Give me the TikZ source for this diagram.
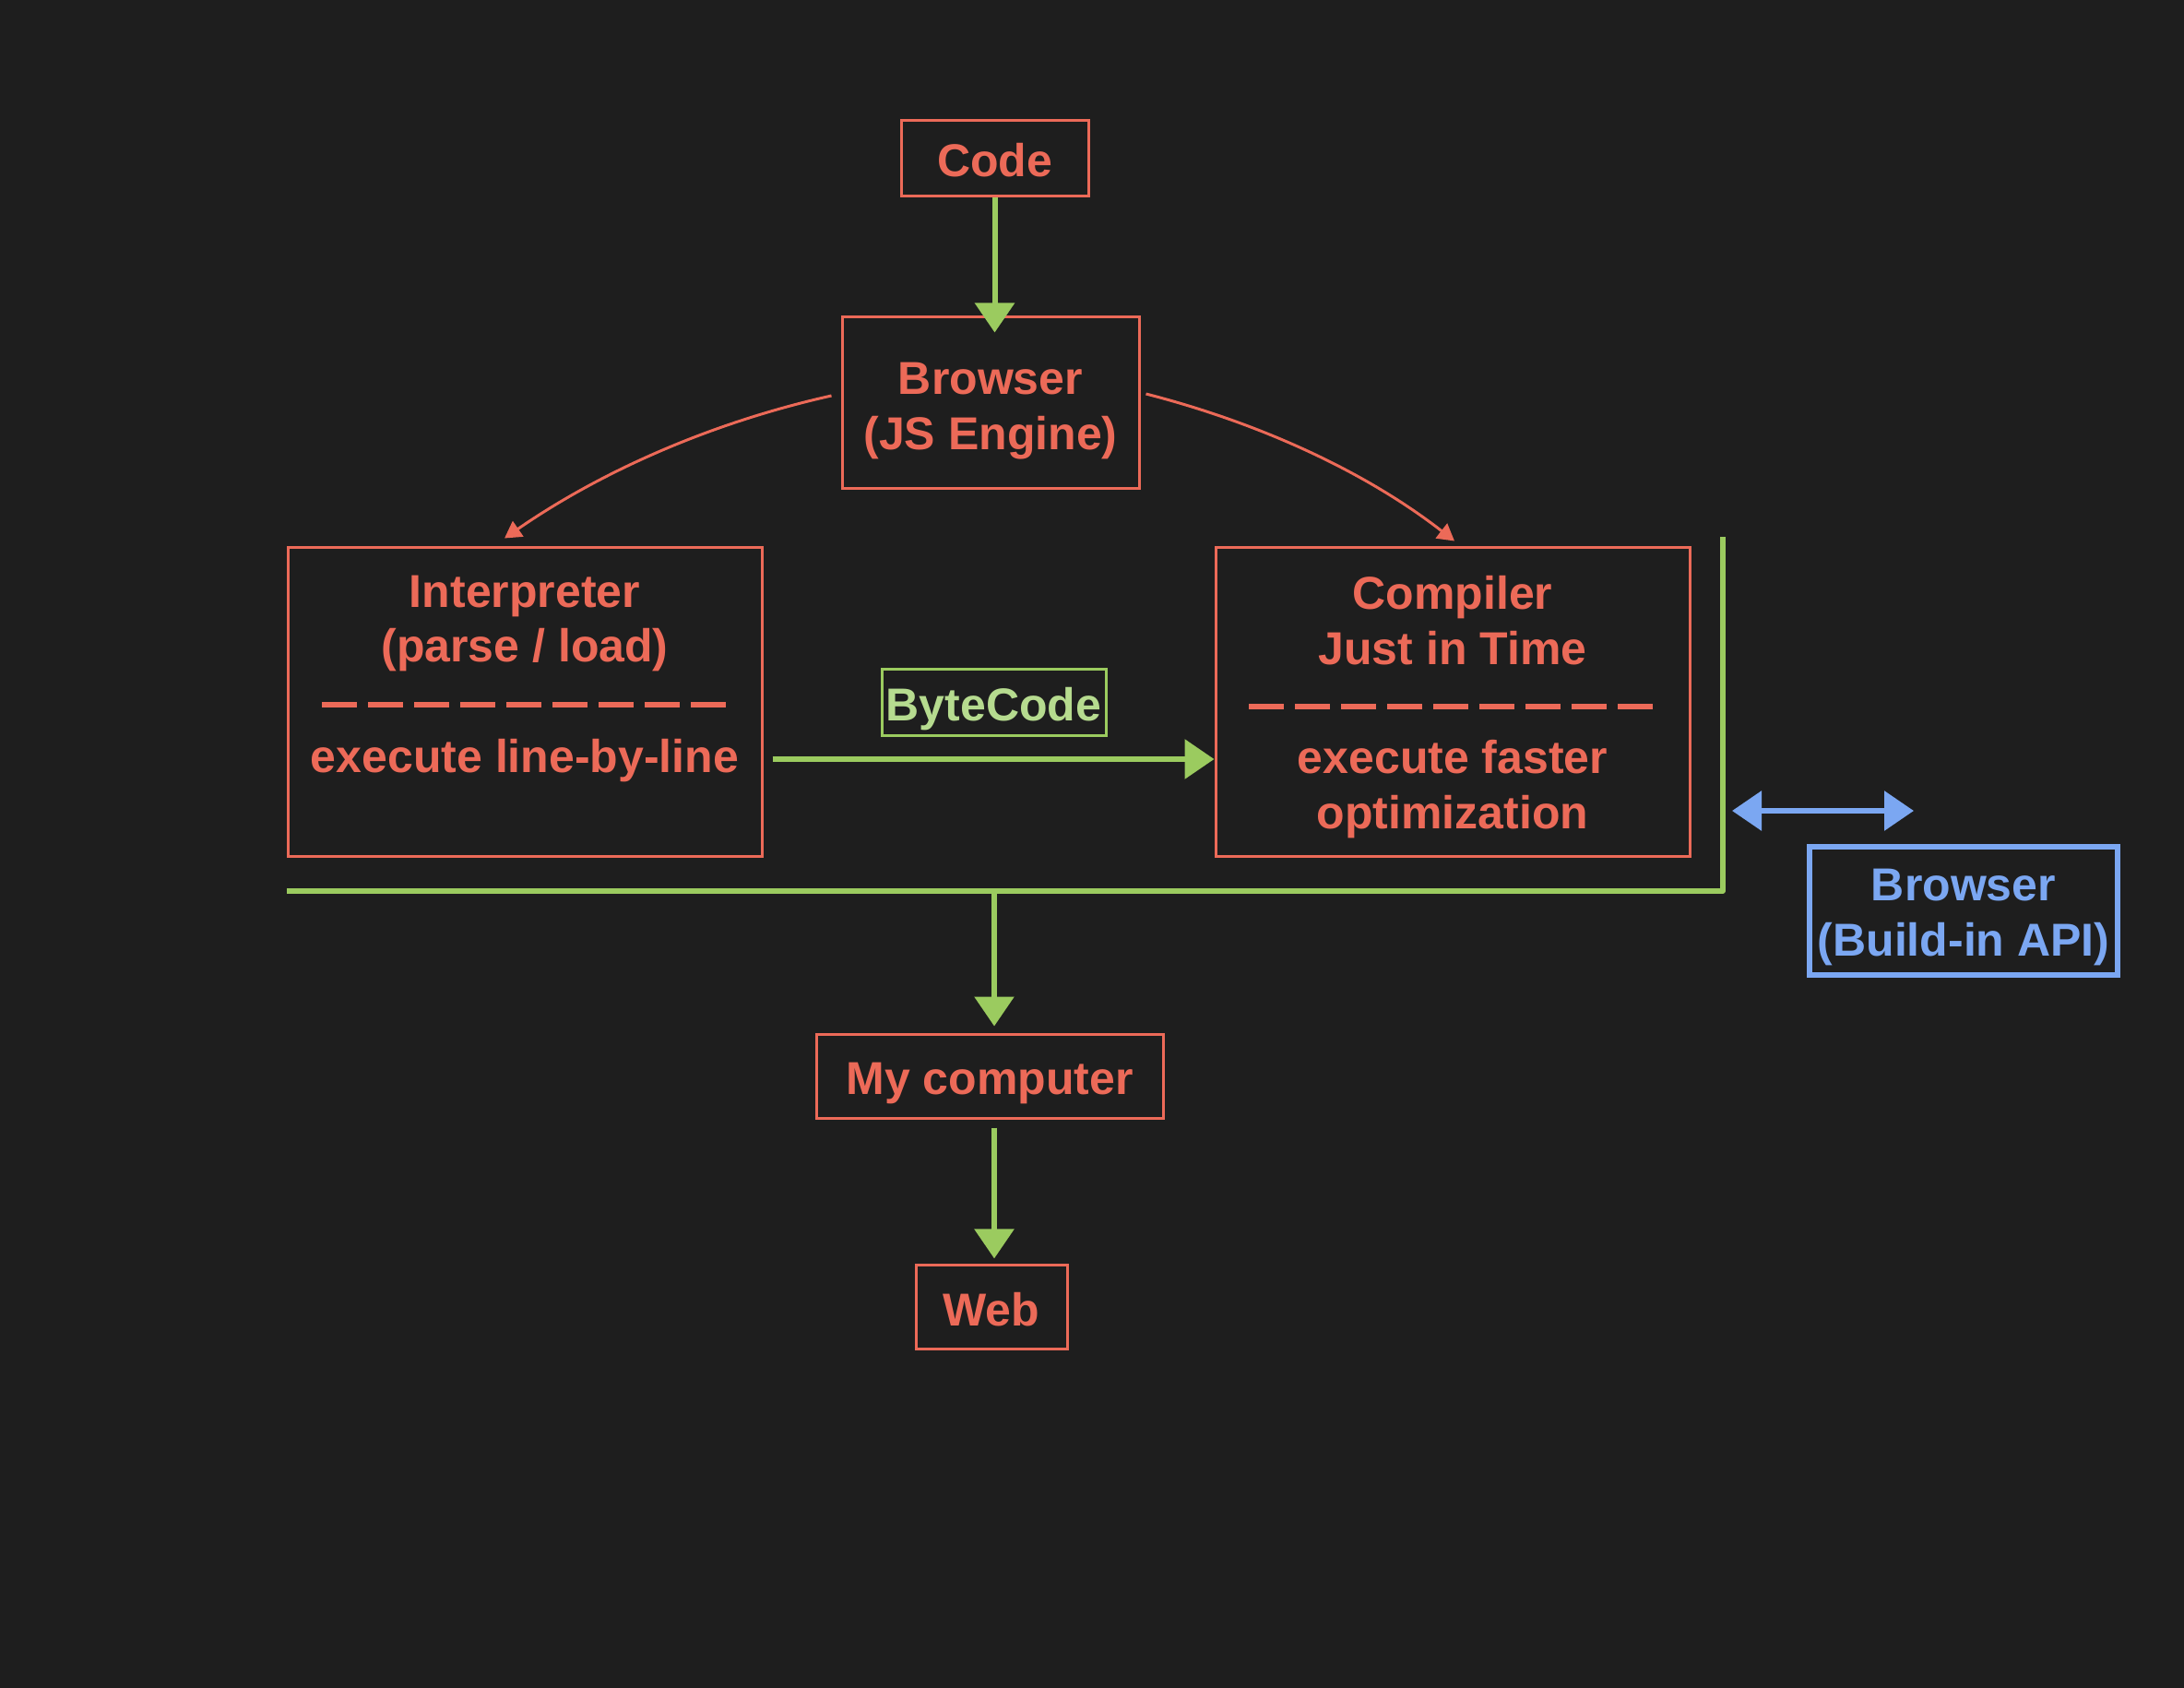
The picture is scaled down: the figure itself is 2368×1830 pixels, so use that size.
\documentclass[tikz,border=0pt]{standalone}
\usepackage{fontspec}
\setmainfont{Liberation Sans}
\usetikzlibrary{arrows.meta,calc}
\definecolor{bg}{HTML}{1E1E1E}
\definecolor{rd}{HTML}{EC6A58}
\definecolor{gr}{HTML}{9BCB5F}
\definecolor{lgr}{HTML}{B6DB8F}
\definecolor{bl}{HTML}{7BA7F2}
\begin{document}
\begin{tikzpicture}[x=0.5pt,y=-0.5pt,
  font=\fontsize{25pt}{30pt}\selectfont\bfseries,
  rbox/.style={draw=rd, line width=1.5pt, text=rd, inner sep=0pt, align=center},
  oneline/.style={text height=20pt, text depth=0pt},
  twoline/.style={text height=#1, text depth=0pt},
  txt/.style={text=rd, inner sep=0pt, anchor=base},
  garrow/.style={draw=gr, line width=3pt, -{Triangle[width=21pt,length=16pt]}},
  rarrow/.style={draw=rd, line width=1.5pt, -{Triangle[width=10pt,length=9pt]}},
  barrow/.style={draw=bl, line width=3pt, {Triangle[width=21pt,length=16pt]}-{Triangle[width=21pt,length=16pt]}},
  sepline/.style={draw=rd, line width=2.75pt, dash pattern=on 19pt off 6pt},
  bracketline/.style={draw=gr, line width=2.75pt, line join=round}]
\fill[bg] (0,0) rectangle (2368,1830);
\useasboundingbox (0,0) rectangle (2368,1830);

% boxes
\node[rbox, oneline, minimum width=101.5pt, minimum height=41pt] (code) at (1078.5,172) {Code};
\node[rbox, twoline=50.5pt, minimum width=161pt, minimum height=92.5pt] (bjs) at (1074,436.5) {Browser\\(JS Engine)};
\node[rbox, minimum width=257pt, minimum height=167.5pt] (interp) at (569,760.5) {};
\node[rbox, minimum width=257pt, minimum height=167.5pt] (comp) at (1575,760.5) {};
\node[draw=gr, line width=1.5pt, text=lgr, inner sep=0pt, oneline, minimum width=121.5pt, minimum height=36pt] (bytecode) at (1077.5,761) {ByteCode};
\node[rbox, oneline, minimum width=188pt, minimum height=45.5pt] (mycomp) at (1073,1166.5) {My computer};
\node[rbox, oneline, minimum width=82pt, minimum height=45.5pt] (web) at (1075,1417) {Web};
\node[draw=bl, line width=3pt, text=bl, inner sep=0pt, align=center, twoline=48.5pt, minimum width=167pt, minimum height=69.5pt] (api) at (2129,987.5) {Browser\\(Build-in API)};

% texts inside interpreter / compiler
\node[txt] (i1) at (569,658) {Interpreter};
\node[txt] (i2) at (569,717) {(parse / load)};
\node[txt] (i3) at (569,837) {execute line-by-line};
\node[txt] (c1) at (1575,660) {Compiler};
\node[txt] (c2) at (1575,720) {Just in Time};
\node[txt] (c3) at (1575,838) {execute faster};
\node[txt] (c4) at (1575,898) {optimization};

% dashed separators
\draw[sepline] (349,764) -- (787,764);
\draw[sepline] (1354,766) -- (1792,766);

% coordinates
\coordinate (k1) at (code.south |- bjs.north);
\coordinate (br1) at (311,966);
\coordinate (br2) at (1868,966);
\coordinate (br3) at (1868,582);
\coordinate (brmid) at (1078,966);
\coordinate (m0) at (brmid |- mycomp.north);
\coordinate (m1) at (brmid |- mycomp.south);
\coordinate (m2) at (brmid |- web.north);
\coordinate (ba1) at (1878,879);
\coordinate (ba2) at (2075,879);

% connectors
\draw[garrow] (code.south) -- ($(k1)+(0,18)$);
\draw[rarrow] ($(bjs.west)+(-10,-7.5)$) .. controls (770.6,458.3) and (652,511) .. ($(interp.north)+(-22,-8)$);
\draw[rarrow] ($(bjs.east)+(6,-9.5)$) .. controls (1371,460) and (1484,514) .. ($(comp.north)+(2,-5)$);
\draw[garrow] ($(interp.east)+(10,62.5)$) -- ($(comp.west)+(0,62.5)$);
\draw[bracketline] (br1) -- (br2) -- (br3);
\draw[garrow, shorten >=3.5pt] (brmid) -- (m0);
\draw[garrow, shorten <=4.5pt, shorten >=2.8pt] (m1) -- (m2);
\draw[barrow] (ba1) -- (ba2);
\end{tikzpicture}
\end{document}
